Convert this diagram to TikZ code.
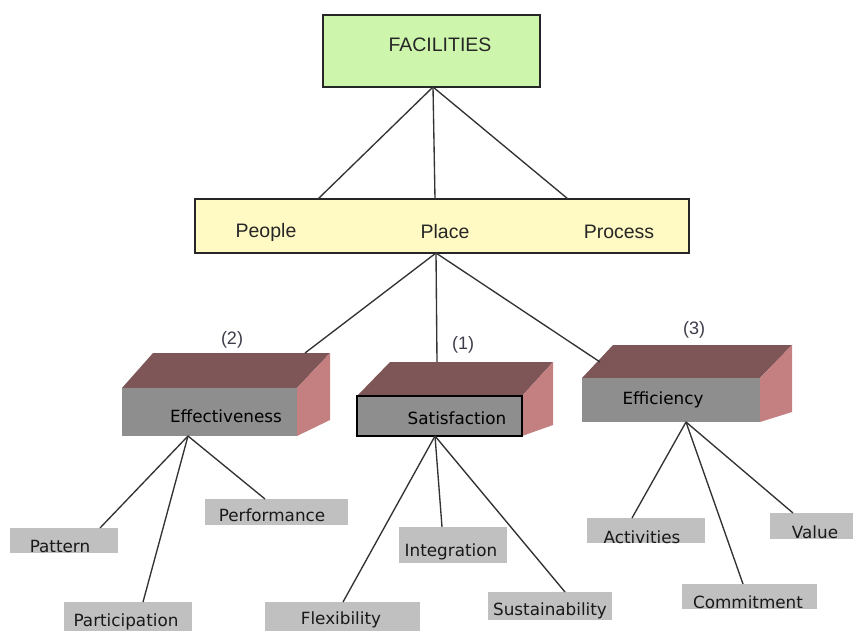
\documentclass[tikz,border=0pt]{standalone}
\usepackage{fontspec}
\setmainfont{Liberation Sans}
\newfontfamily\dejavu{DejaVu Sans}
\definecolor{facgreen}{RGB}{206,245,172}
\definecolor{pppyellow}{RGB}{255,250,196}
\definecolor{topbrown}{RGB}{126,86,87}
\definecolor{sidepink}{RGB}{196,128,128}
\definecolor{frontgray}{RGB}{142,142,142}
\definecolor{leafgray}{RGB}{192,192,192}
\definecolor{numcol}{RGB}{60,60,75}
\begin{document}
\begin{tikzpicture}[x=1pt,y=-1pt,
  conn/.style={draw=black!80, line width=1.35pt},
  topbox/.style={draw=black!85, line width=1.3pt, inner sep=0pt},
  toptext/.style={font=\fontsize{19.5}{23}\selectfont, text=black!85, inner sep=0pt},
  numtext/.style={font=\fontsize{18}{22}\selectfont, text=numcol, inner sep=0pt},
  boxtext/.style={font=\dejavu\fontsize{16.8}{20}\selectfont, text=black, inner sep=0pt},
  leaftext/.style={font=\dejavu\fontsize{16.8}{20}\selectfont, text=black!90, inner sep=0pt},
  leaf/.style={fill=leafgray, inner sep=0pt},
  topface/.style={fill=topbrown},
  sideface/.style={fill=sidepink},
  frontface/.style={fill=frontgray}]
\useasboundingbox (0,0) rectangle (856,630);

% top boxes
\node[topbox, fill=facgreen, minimum width=217pt, minimum height=72pt] (fac) at (431.5,51) {};
\node[toptext] (factext) at (440,45) {FACILITIES};
\node[topbox, fill=pppyellow, minimum width=494pt, minimum height=54pt] (ppp) at (442,226) {};
\node[toptext] (people) at (266,232) {People};
\node[toptext] (place) at (445,232) {Place};
\node[toptext] (process) at (619,232) {Process};

\coordinate (facb) at (433,87);
\coordinate (pA) at (318,199);
\coordinate (pB) at (435,199);
\coordinate (pC) at (568,199);
\draw[conn] (facb) -- (pA);
\draw[conn] (facb) -- (pB);
\draw[conn] (facb) -- (pC);

% 3D boxes
% Effectiveness
\fill[topface] (122,388) -- (153,353) -- (330,353) -- (297,388) -- cycle;
\fill[sideface] (297,388) -- (330,353) -- (330,420) -- (297,436) -- cycle;
\fill[frontface] (122,388) rectangle (297,436);
% Satisfaction
\fill[topface] (357,396) -- (390,362) -- (553,362) -- (522,396) -- cycle;
\fill[sideface] (522,396) -- (553,362) -- (553,425) -- (522,436) -- cycle;
\fill[frontface, draw=black, line width=1.3pt] (357,396) rectangle (522,436);
% Efficiency
\fill[topface] (582,378) -- (613,345) -- (792,345) -- (760,378) -- cycle;
\fill[sideface] (760,378) -- (792,345) -- (792,412) -- (760,422) -- cycle;
\fill[frontface] (582,378) rectangle (760,422);

\node[boxtext] (eff) at (226,416) {Effectiveness};
\node[boxtext] (sat) at (457,418) {Satisfaction};
\node[boxtext] (effi) at (663,400) {Efficiency};
\node[numtext] (n2) at (232,340) {(2)};
\node[numtext] (n1) at (463,345) {(1)};
\node[numtext] (n3) at (694,330) {(3)};

\coordinate (placeb) at (436,253);
\coordinate (effT) at (305,353);
\coordinate (satT) at (437,362);
\coordinate (effiT) at (600,362);
\draw[conn] (placeb) -- (effT);
\draw[conn] (placeb) -- (satT);
\draw[conn] (placeb) -- (effiT);

% leaves
\fill[leaf] (10,528) rectangle (118,553);
\fill[leaf] (205,499) rectangle (348,525);
\fill[leaf] (64,602) rectangle (192,640);
\fill[leaf] (265,602) rectangle (420,640);
\fill[leaf] (399,527) rectangle (507,563);
\fill[leaf] (488,592) rectangle (612,620);
\fill[leaf] (587,518) rectangle (705,543);
\fill[leaf] (682,584) rectangle (817,609);
\fill[leaf] (770,513) rectangle (853,539);

\node[leaftext] (pattern) at (60,546) {Pattern};
\node[leaftext] (performance) at (272,515) {Performance};
\node[leaftext] (participation) at (126,622) {Participation};
\node[leaftext] (flexibility) at (341,620) {Flexibility};
\node[leaftext] (integration) at (451,552) {Integration};
\node[leaftext] (sustainability) at (550,611) {Sustainability};
\node[leaftext] (activities) at (642,537) {Activities};
\node[leaftext] (commitment) at (748,602) {Commitment};
\node[leaftext] (value) at (815,532) {Value};

\coordinate (effB) at (188,436);
\coordinate (satB) at (435,436);
\coordinate (effiB) at (686,422);
\coordinate (patT) at (100,528);
\coordinate (perfT) at (265,499);
\coordinate (partT) at (143,602);
\coordinate (flexT) at (343,602);
\coordinate (intT) at (442,527);
\coordinate (susT) at (565,592);
\coordinate (actT) at (632,518);
\coordinate (comT) at (743,584);
\coordinate (valT) at (793,513);
\draw[conn] (effB) -- (patT);
\draw[conn] (effB) -- (perfT);
\draw[conn] (effB) -- (partT);
\draw[conn] (satB) -- (flexT);
\draw[conn] (satB) -- (intT);
\draw[conn] (satB) -- (susT);
\draw[conn] (effiB) -- (actT);
\draw[conn] (effiB) -- (comT);
\draw[conn] (effiB) -- (valT);
\end{tikzpicture}
\end{document}
